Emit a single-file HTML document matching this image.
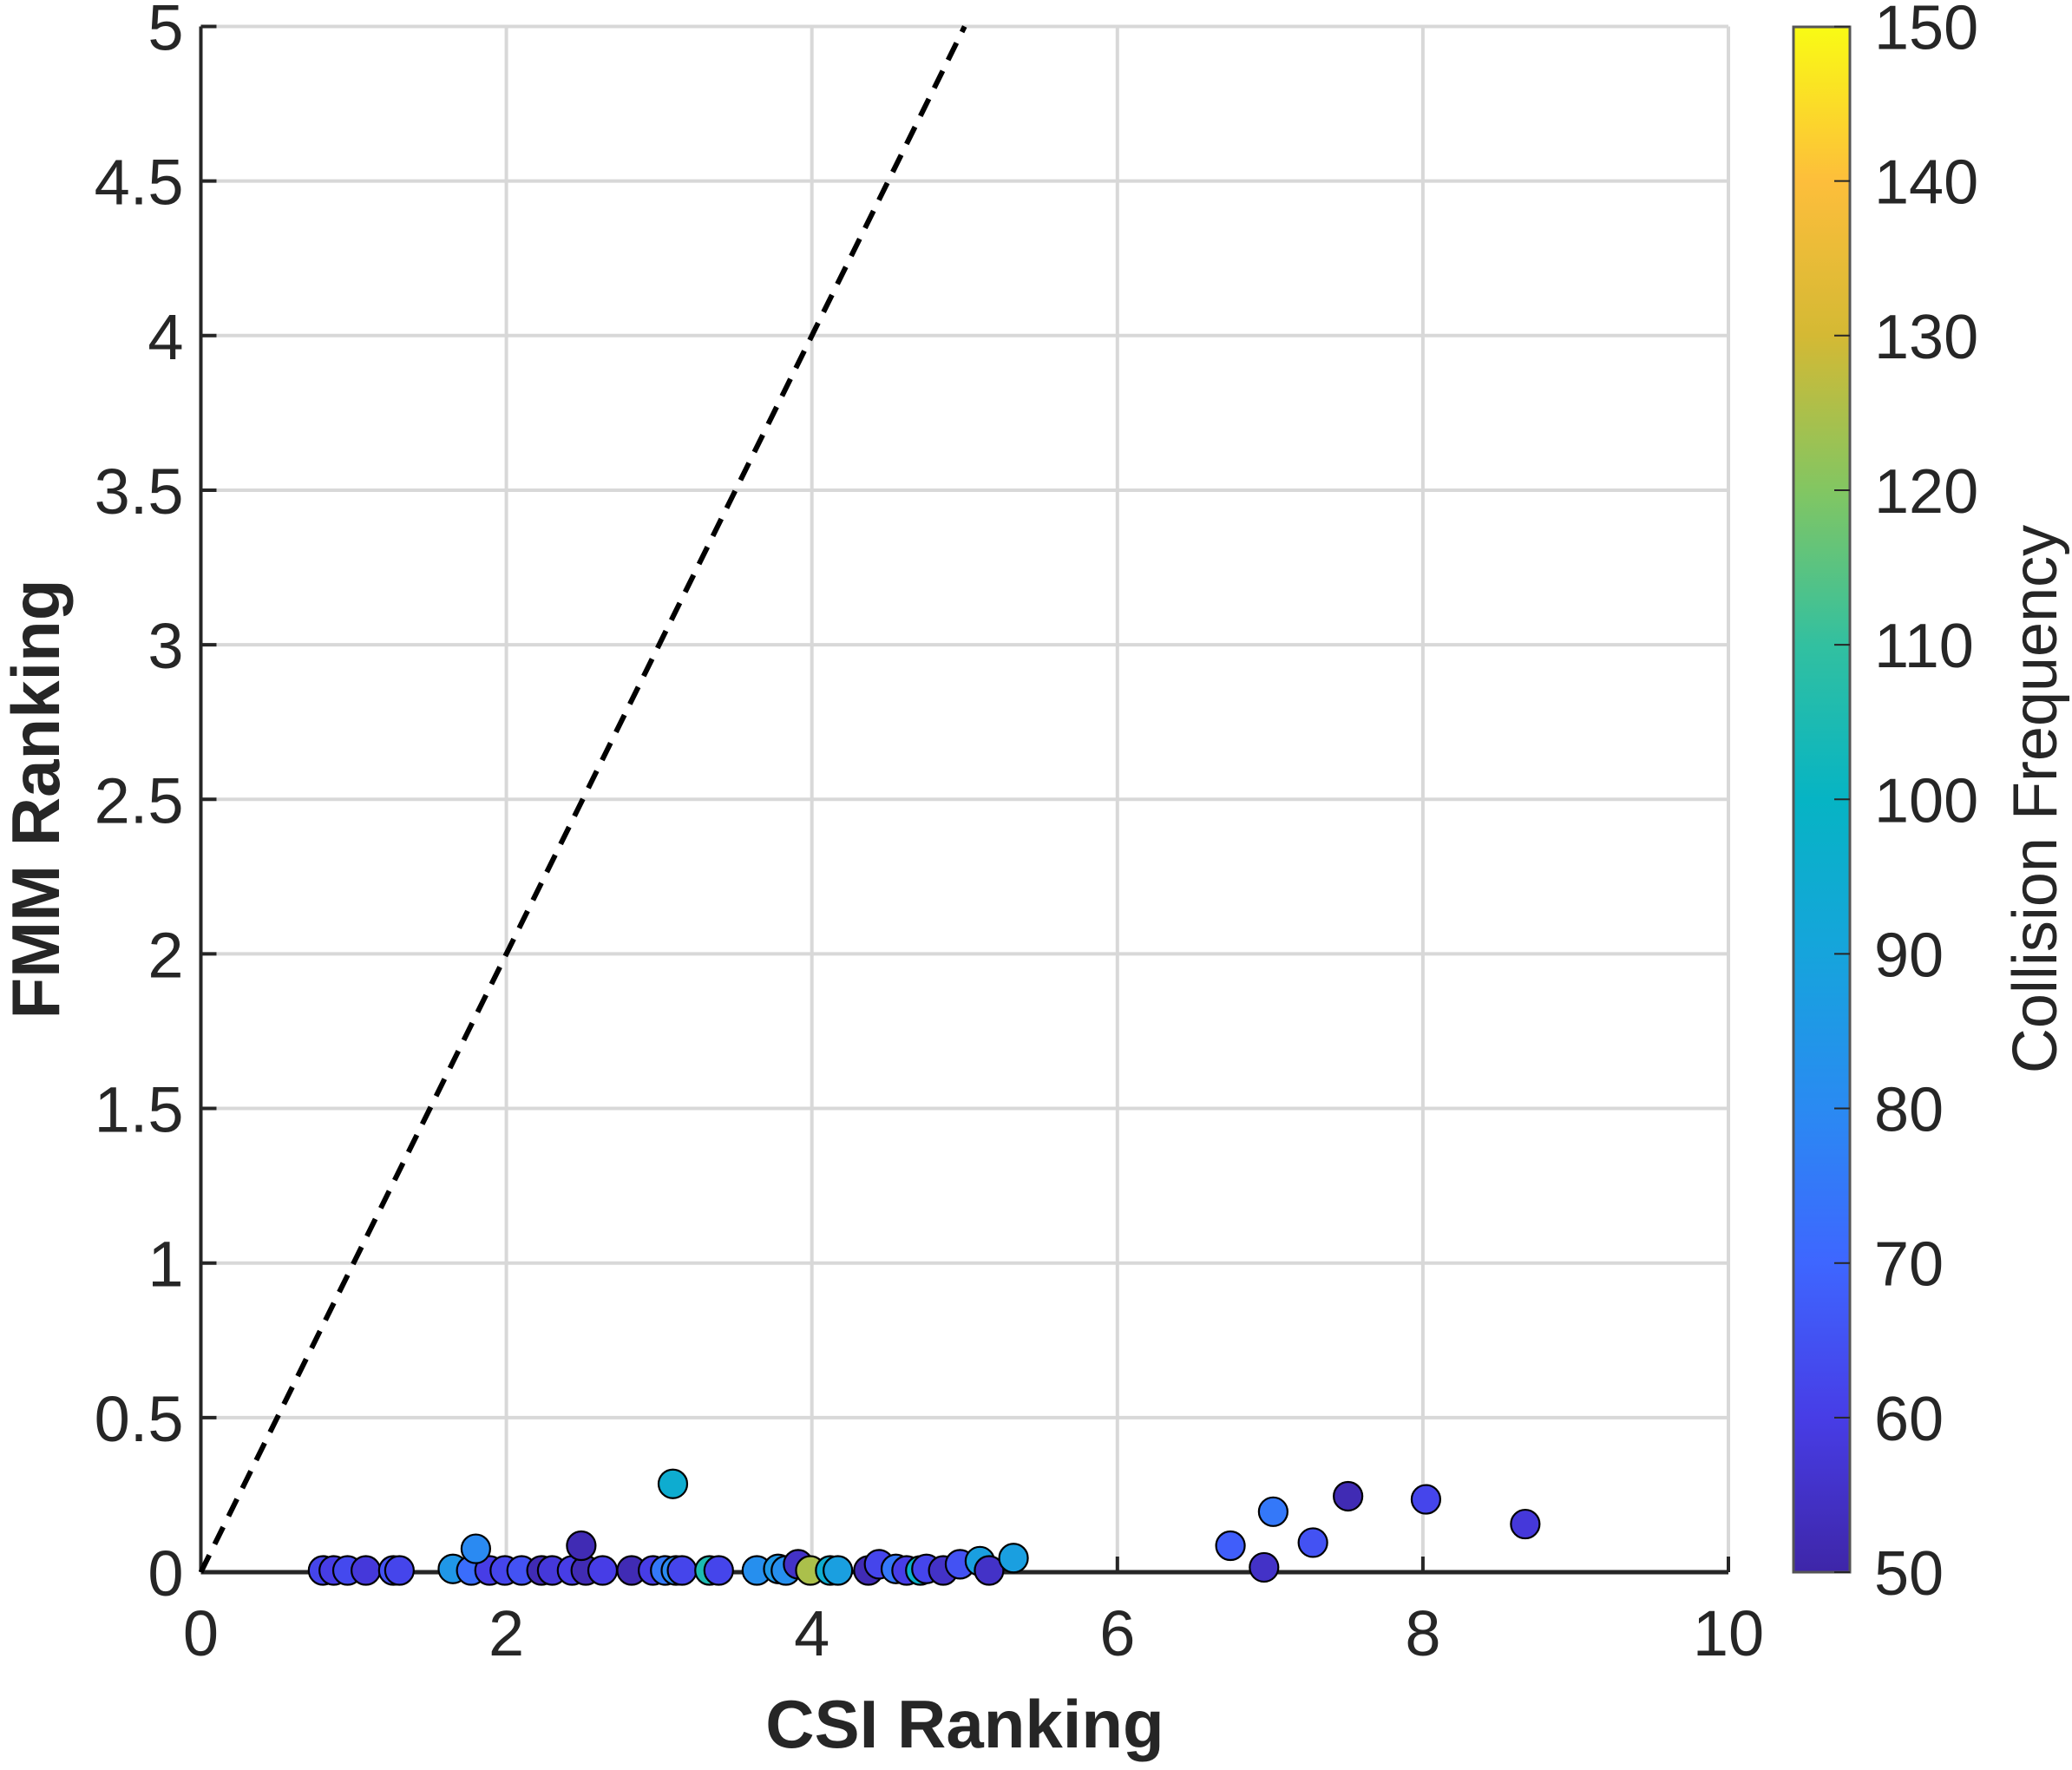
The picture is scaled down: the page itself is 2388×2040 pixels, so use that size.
<!DOCTYPE html>
<html><head><meta charset="utf-8"><style>
html,body{margin:0;padding:0;background:#fff;}
svg{display:block;font-family:"Liberation Sans",Arial,sans-serif;}
</style></head><body>
<svg id="chart" width="2388" height="2040" viewBox="0 0 2388 2040" xmlns="http://www.w3.org/2000/svg">
<defs>
<linearGradient id="parula" x1="0" y1="1" x2="0" y2="0">
<stop offset="0" stop-color="#3e26a8"/><stop offset="0.1" stop-color="#473de6"/><stop offset="0.2" stop-color="#3e66ff"/><stop offset="0.3" stop-color="#2a8af2"/><stop offset="0.4" stop-color="#16a4dc"/><stop offset="0.5" stop-color="#06b4c4"/><stop offset="0.6" stop-color="#32c0a0"/><stop offset="0.7" stop-color="#82c662"/><stop offset="0.8" stop-color="#d4b934"/><stop offset="0.9" stop-color="#fdbe3b"/><stop offset="1" stop-color="#f9fb14"/>
</linearGradient>
</defs>
<g id="grid"></g>
<g id="axes"></g>
<g id="marks"></g>
<rect x="2067" y="31" width="65" height="1781" fill="url(#parula)" stroke="#555" stroke-width="3"/>
<g id="cbar"></g>
<text x="1112" y="2014" font-size="78" font-weight="bold" fill="#262626" text-anchor="middle">CSI Ranking</text>
<text transform="translate(68,921) rotate(-90)" font-size="78" font-weight="bold" fill="#262626" text-anchor="middle">FMM Ranking</text>
<text transform="translate(2370,921) rotate(-90)" font-size="72" fill="#262626" text-anchor="middle">Collision Frequency</text>
</svg>
<script>
const xTicks=[0,2,4,6,8,10];
const yTicks=[0,0.5,1,1.5,2,2.5,3,3.5,4,4.5,5];
const yTickLabels=["0","0.5","1","1.5","2","2.5","3","3.5","4","4.5","5"];
const cTicks=[50,60,70,80,90,100,110,120,130,140,150];
const xs=[0.80,0.87,0.96,1.08,1.26,1.30,1.65,1.77,1.89,1.99,2.10,2.23,2.30,2.43,2.52,2.63,2.82,2.96,3.04,3.11,3.15,3.33,3.39,1.80,2.49,3.09,3.64,3.78,3.83,3.91,3.99,4.12,4.17,4.37,4.44,4.55,4.62,4.71,4.75,4.86,4.97,5.10,5.16,5.32,6.74,7.02,6.96,7.28,7.51,8.02,8.67];
const ys=[0,0,0,0,0,0,0.005,0,0,0,0,0,0,0,0,0,0,0,0,0,0,0,0,0.07,0.08,0.28,0,0.005,0,0.02,0,0,0,0,0.02,0.005,0,0,0.005,0,0.02,0.03,0,0.04,0.08,0.19,0.01,0.09,0.24,0.23,0.15];
const cs=[62,60,63,58,65,62,85,72,60,62,65,52,58,60,52,60,52,60,75,80,62,105,62,80,52,95,82,85,82,55,125,95,88,52,62,75,60,98,62,55,65,88,55,88,68,75,55,65,52,62,58];
const NS="http://www.w3.org/2000/svg";
const L=231.5,R=1992,T=30.5,B=1812;
const sx=v=>L+(v-0)/(10-0)*(R-L);
const sy=v=>B-(v-0)/(5-0)*(B-T);
const sc=v=>B-(v-50)/(150-50)*(B-T);
const stops=[[0,[62,38,168]],[0.1,[71,61,230]],[0.2,[62,102,255]],[0.3,[42,138,242]],[0.4,[22,164,220]],[0.5,[6,180,196]],[0.6,[50,192,160]],[0.7,[130,198,98]],[0.8,[212,185,52]],[0.9,[253,190,59]],[1,[249,251,20]]];
function cmap(v){let t=Math.max(0,Math.min(1,(v-50)/100));for(let i=1;i<stops.length;i++){if(t<=stops[i][0]){const a=stops[i-1],b=stops[i];const f=(t-a[0])/(b[0]-a[0]);const c=a[1].map((x,k)=>Math.round(x+(b[1][k]-x)*f));return `rgb(${c})`;}}return 'rgb(249,251,20)';}
function mk(tag,at,parent){const e=document.createElementNS(NS,tag);for(const k in at)e.setAttribute(k,at[k]);parent.appendChild(e);return e;}
const grid=document.getElementById('grid'),axes=document.getElementById('axes'),marks=document.getElementById('marks'),cbar=document.getElementById('cbar');
xTicks.forEach((t,i)=>{
  if(t>0){const g=mk('line',{x1:sx(t),x2:sx(t),y1:T,y2:B,stroke:'#d8d8d8','stroke-width':4},grid);
  
  }
  const tk=mk('line',{x1:sx(t),x2:sx(t),y1:B,y2:B-18,stroke:'#262626','stroke-width':4},axes);
  
  
  const tx=mk('text',{x:sx(t),y:B+96,'font-size':74,fill:'#262626','text-anchor':'middle'},axes);
  tx.textContent=String(t);
  
  
});
yTicks.forEach((t,i)=>{
  if(t>0){const g=mk('line',{x1:L,x2:R,y1:sy(t),y2:sy(t),stroke:'#d8d8d8','stroke-width':4},grid);
  
  }
  const tk=mk('line',{x1:L,x2:L+18,y1:sy(t),y2:sy(t),stroke:'#262626','stroke-width':4},axes);
  
  
  const tx=mk('text',{x:L-20,y:sy(t)+27,'font-size':74,fill:'#262626','text-anchor':'end'},axes);
  tx.textContent=yTickLabels[i];
  
  
});
const ax1=mk('line',{x1:L,x2:L,y1:T,y2:B,stroke:'#262626','stroke-width':4},axes);


const ax2=mk('line',{x1:L,x2:R,y1:B,y2:B,stroke:'#262626','stroke-width':5},axes);


const ref=mk('line',{x1:sx(0),y1:sy(0),x2:sx(5),y2:sy(5),stroke:'#000','stroke-width':6,'stroke-dasharray':'22 14'},axes);


xs.forEach((x,i)=>{
  const c=mk('circle',{cx:sx(x),cy:sy(ys[i])-2,r:16.5,fill:cmap(cs[i]),stroke:'#000','stroke-width':2.2},marks);
  
  
});
cTicks.forEach(t=>{
  const tk=mk('line',{x1:2132,x2:2114,y1:sc(t),y2:sc(t),stroke:'#262626','stroke-width':2},cbar);
  
  
  const tx=mk('text',{x:2160,y:sc(t)+26,'font-size':72,fill:'#262626'},cbar);
  tx.textContent=String(t);
  
  
});
</script>
</body></html>
